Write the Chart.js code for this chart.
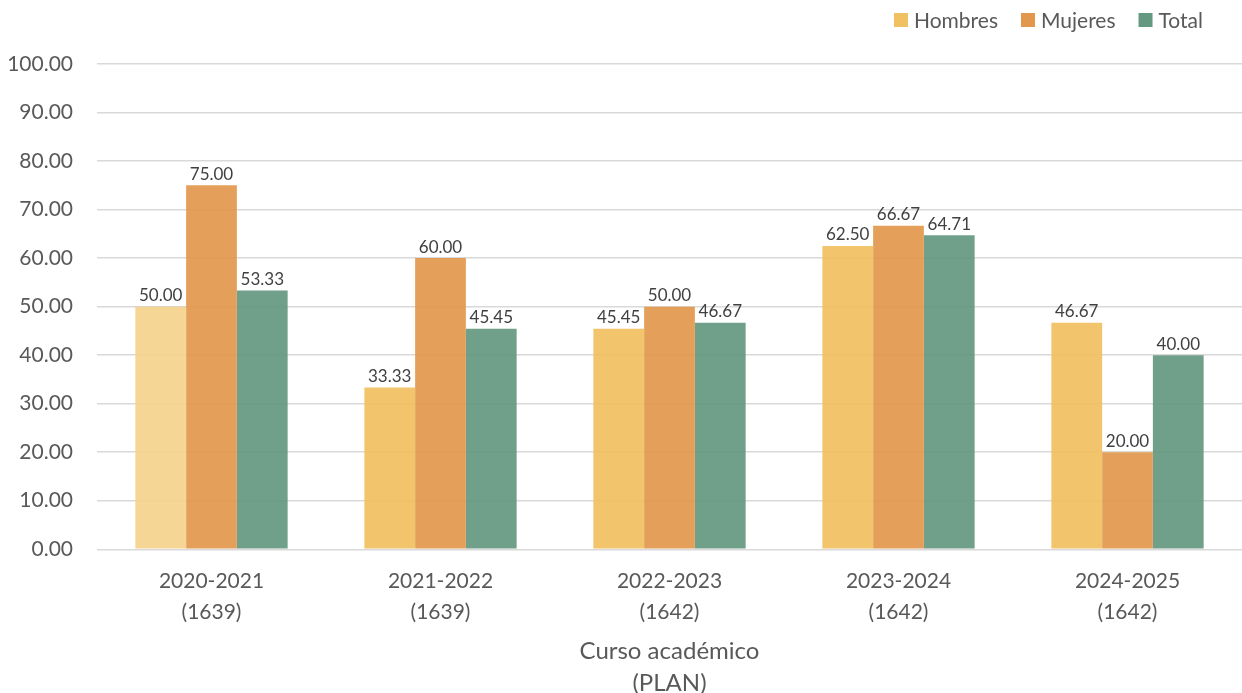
<!DOCTYPE html>
<html><head><meta charset="utf-8">
<script src="https://cdn.jsdelivr.net/npm/chart.js@4.4.1/dist/chart.umd.min.js"></script>
<style>html,body{margin:0;padding:0;background:#fff}#w{width:1242px;height:693px}</style>
</head><body><div id="w"><canvas id="c"></canvas></div>
<script>
const categories = [["2020-2021","(1639)"],["2021-2022","(1639)"],["2022-2023","(1642)"],["2023-2024","(1642)"],["2024-2025","(1642)"]];
const hombres = [50.00, 33.33, 45.45, 62.50, 46.67];
const mujeres = [75.00, 60.00, 50.00, 66.67, 20.00];
const total = [53.33, 45.45, 46.67, 64.71, 40.00];
const seriesNames = ["Hombres","Mujeres","Total"];
const seriesColors = ['rgb(241,192,96)','rgb(226,152,76)','rgb(101,152,128)'];
const yTicks = [0,10,20,30,40,50,60,70,80,90,100];
const FONT = "Lato, 'Open Sans', sans-serif";

const labelPlugin = {
  id: 'vals',
  afterDatasetsDraw(chart) {
    const ctx = chart.ctx;
    ctx.save();
    ctx.font = "17px " + FONT;
    ctx.fillStyle = '#404040';
    ctx.textAlign = 'center';
    ctx.textBaseline = 'middle';
    chart.data.datasets.forEach((ds, i) => {
      const meta = chart.getDatasetMeta(i);
      meta.data.forEach((bar, j) => {
        ctx.fillText(ds.data[j].toFixed(2), bar.x, bar.y - 11);
      });
    });
    ctx.restore();
  }
};

const legendPlugin = {
  id: 'customLegend',
  afterDraw(chart) {
    const ctx = chart.ctx;
    ctx.save();
    ctx.font = "21px " + FONT;
    ctx.textBaseline = 'middle';
    ctx.textAlign = 'left';
    const box = 14, gap = 6, spacing = 23, endX = 1203, cy = 20;
    const widths = seriesNames.map(n => ctx.measureText(n).width);
    let total = 0;
    widths.forEach((w, i) => { total += box + gap + w + (i < widths.length - 1 ? spacing : 0); });
    let x = endX - total;
    seriesNames.forEach((n, i) => {
      ctx.fillStyle = seriesColors[i];
      ctx.fillRect(x, cy - box / 2, box, box);
      ctx.fillStyle = '#595959';
      ctx.fillText(n, x + box + gap, cy + 1);
      x += box + gap + widths[i] + spacing;
    });
    ctx.restore();
  }
};

new Chart(document.getElementById('c'), {
  type: 'bar',
  data: {
    labels: categories,
    datasets: [
      {label: seriesNames[0], data: hombres, backgroundColor: ['rgba(244,210,140,0.92)','rgba(241,192,96,0.92)','rgba(241,192,96,0.92)','rgba(241,192,96,0.92)','rgba(241,192,96,0.92)'], borderWidth: 0},
      {label: seriesNames[1], data: mujeres, backgroundColor: 'rgba(226,152,76,0.92)', borderWidth: 0},
      {label: seriesNames[2], data: total, backgroundColor: 'rgba(101,152,128,0.92)', borderWidth: 0}
    ]
  },
  options: {
    responsive: true,
    maintainAspectRatio: false,
    animation: false,
    layout: {padding: {left: 0, right: -9, top: 64, bottom: -6}},
    datasets: {bar: {categoryPercentage: 0.665, barPercentage: 1.0}},
    plugins: {
      legend: {display: false},
      tooltip: {enabled: false}
    },
    scales: {
      x: {
        grid: {display: false},
        border: {display: false},
        ticks: {font: {family: FONT, size: 21, lineHeight: 1.45}, color: '#595959', padding: 9},
        title: {display: true, text: ['Curso académico','(PLAN)'], font: {family: FONT, size: 24, lineHeight: 1.33}, color: '#595959', padding: {top: -1, bottom: 0}}
      },
      y: {
        min: 0, max: 100,
        afterFit(axis) { axis.width = 97; },
        afterBuildTicks(axis) { axis.ticks = yTicks.map(v => ({value: v})); },
        grid: {color: '#d9d9d9', lineWidth: 1.5, drawTicks: false},
        border: {display: false},
        ticks: {font: {family: FONT, size: 21}, color: '#595959', padding: 24, callback: v => Number(v).toFixed(2)}
      }
    }
  },
  plugins: [labelPlugin, legendPlugin]
});
</script></body></html>
